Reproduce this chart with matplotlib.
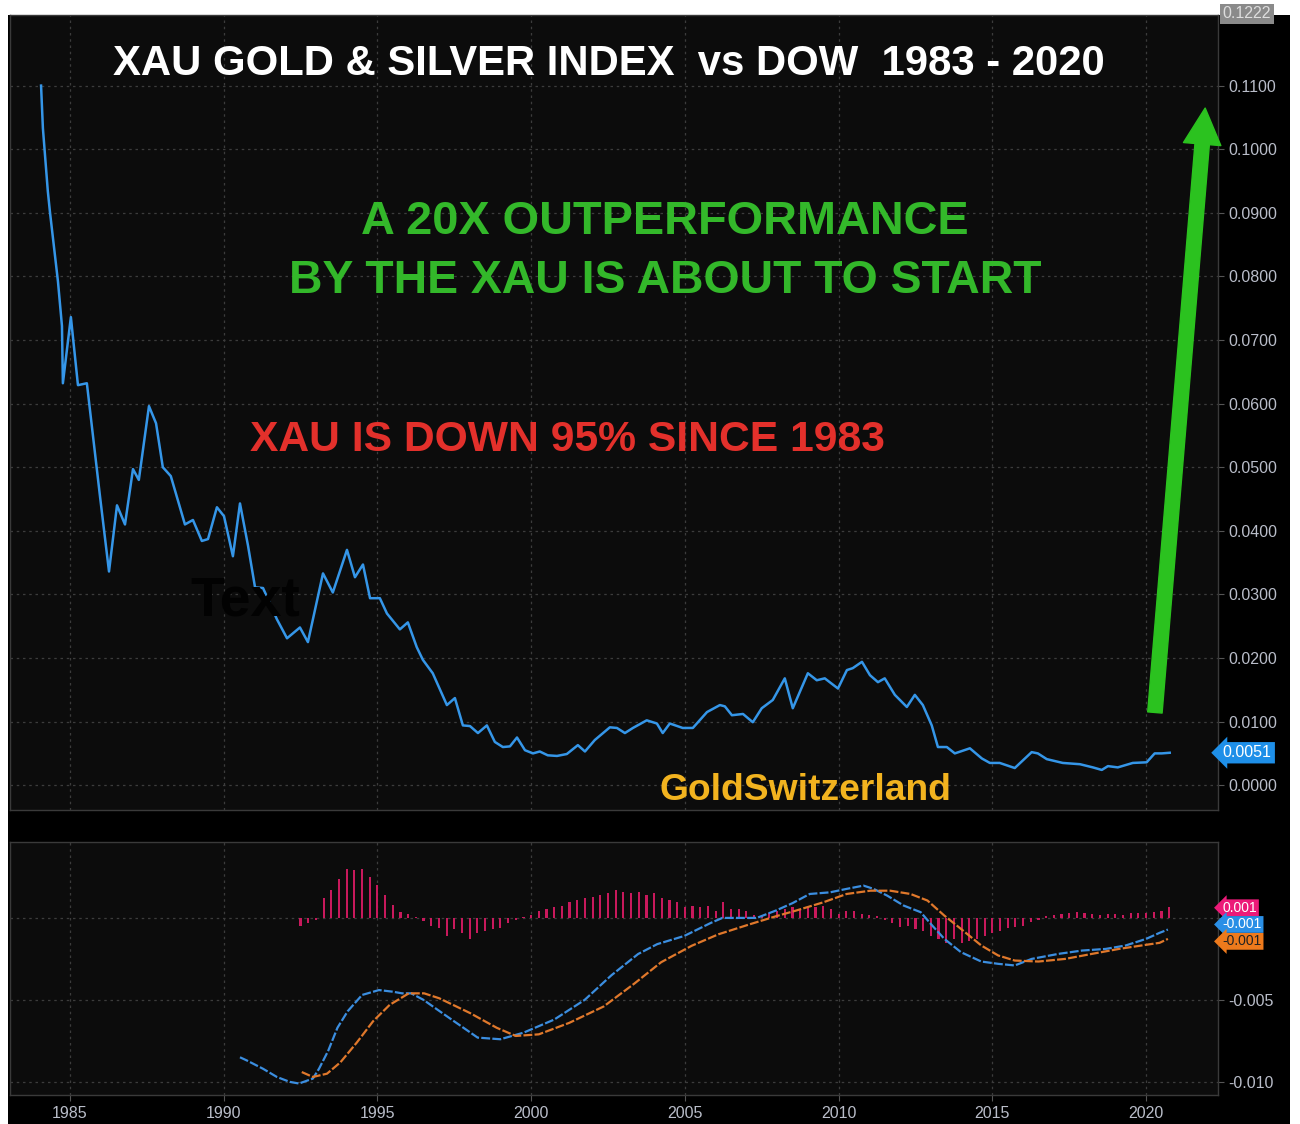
import numpy as np
import matplotlib
matplotlib.use("Agg")
import matplotlib.pyplot as plt
from matplotlib import font_manager
from matplotlib.patches import Rectangle, FancyArrowPatch
import matplotlib.transforms as mtransforms

# ---- data ----
xau_years = [1984.06, 1984.12, 1984.28, 1984.35, 1984.61, 1984.74, 1984.77, 1985.03, 1985.26, 1985.55,
             1985.98, 1986.27, 1986.53, 1986.79, 1987.05, 1987.24, 1987.57, 1987.80, 1988.02, 1988.28,
             1988.74, 1989.00, 1989.29, 1989.49, 1989.78, 1990.01, 1990.30, 1990.53, 1990.79, 1991.02,
             1991.28, 1991.73, 1992.06, 1992.48, 1992.74, 1993.23, 1993.55, 1994.01, 1994.27, 1994.53,
             1994.76, 1995.08, 1995.31, 1995.73, 1995.99, 1996.28, 1996.48, 1996.80, 1997.26, 1997.52,
             1997.78, 1998.01, 1998.27, 1998.56, 1998.82, 1999.08, 1999.31, 1999.54, 1999.80, 2000.06,
             2000.28, 2000.54, 2000.84, 2001.16, 2001.52, 2001.75, 2002.07, 2002.56, 2002.79, 2003.05,
             2003.31, 2003.76, 2004.09, 2004.28, 2004.51, 2004.93, 2005.26, 2005.72, 2006.14, 2006.30,
             2006.53, 2006.89, 2007.21, 2007.50, 2007.86, 2008.25, 2008.51, 2009.00, 2009.29, 2009.55,
             2009.98, 2010.27, 2010.46, 2010.76, 2011.02, 2011.28, 2011.50, 2011.83, 2012.22, 2012.48,
             2012.74, 2013.03, 2013.23, 2013.52, 2013.78, 2014.27, 2014.66, 2014.92, 2015.24, 2015.73,
             2016.28, 2016.48, 2016.77, 2017.29, 2017.85, 2018.27, 2018.56, 2018.76, 2019.08, 2019.57,
             2020.02, 2020.28, 2020.51, 2020.77]
xau_ratio = [0.1100, 0.1033, 0.0934, 0.0901, 0.0792, 0.0722, 0.0632, 0.0736, 0.0629, 0.0632,
             0.0453, 0.0336, 0.0440, 0.0410, 0.0497, 0.0480, 0.0596, 0.0569, 0.0500, 0.0486,
             0.0410, 0.0417, 0.0384, 0.0387, 0.0437, 0.0423, 0.0360, 0.0443, 0.0377, 0.0311,
             0.0310, 0.0261, 0.0231, 0.0248, 0.0225, 0.0333, 0.0303, 0.0370, 0.0327, 0.0347,
             0.0294, 0.0294, 0.0270, 0.0245, 0.0256, 0.0217, 0.0197, 0.0176, 0.0126, 0.0137,
             0.0094, 0.0093, 0.0082, 0.0094, 0.0068, 0.0060, 0.0061, 0.0075, 0.0055, 0.0050,
             0.0053, 0.0047, 0.0046, 0.0049, 0.0063, 0.0053, 0.0071, 0.0091, 0.0090, 0.0082,
             0.0090, 0.0102, 0.0097, 0.0082, 0.0097, 0.0090, 0.0090, 0.0115, 0.0126, 0.0124,
             0.0110, 0.0112, 0.0099, 0.0121, 0.0134, 0.0168, 0.0121, 0.0176, 0.0165, 0.0168,
             0.0152, 0.0181, 0.0184, 0.0194, 0.0173, 0.0162, 0.0168, 0.0142, 0.0123, 0.0142,
             0.0126, 0.0094, 0.0060, 0.0060, 0.0050, 0.0058, 0.0042, 0.0035, 0.0035, 0.0027,
             0.0052, 0.0050, 0.0041, 0.0035, 0.0033, 0.0028, 0.0024, 0.0030, 0.0028, 0.0035,
             0.0036, 0.0050, 0.0050, 0.0051]

macd_years = [1990.53, 1990.76, 1991.28, 1991.73, 1992.15, 1992.45, 1992.90, 1993.10, 1993.40, 1993.70,
              1994.03, 1994.50, 1995.05, 1995.50, 1995.80, 1996.10, 1996.50, 1997.26, 1998.26, 1999.00,
              1999.75, 2000.75, 2001.74, 2002.61, 2003.48, 2004.10, 2004.98, 2005.85, 2006.22, 2007.34,
              2007.96, 2008.50, 2009.06, 2009.72, 2010.26, 2010.81, 2011.14, 2011.58, 2012.12, 2012.67,
              2013.00, 2013.44, 2013.98, 2014.64, 2015.19, 2015.73, 2016.28, 2017.16, 2017.92, 2018.69,
              2019.34, 2020.00, 2020.44, 2020.71]
macd_line = [-0.0085, -0.0087, -0.0092, -0.0097, -0.0100, -0.0101, -0.0098, -0.0092, -0.0081, -0.0067,
             -0.0057, -0.0047, -0.0044, -0.0045, -0.0046, -0.0046, -0.0050, -0.0060, -0.0073, -0.0074,
             -0.0070, -0.0062, -0.0050, -0.0035, -0.0022, -0.0016, -0.0011, -0.0003, 0.0000, 0.0000,
             0.00045, 0.0009, 0.00146, 0.00156, 0.00177, 0.00197, 0.00177, 0.00136, 0.00075, 0.00035,
             -0.00037, -0.00128, -0.00209, -0.00266, -0.0028, -0.0029, -0.0025, -0.00219, -0.00199, -0.00189,
             -0.00168, -0.00128, -0.00091, -0.00071]

signal_years = [1992.54, 1992.90, 1993.36, 1993.80, 1994.33, 1994.86, 1995.40, 1996.02, 1996.52, 1997.01,
                1998.01, 1998.88, 1999.50, 2000.25, 2001.24, 2002.36, 2003.36, 2004.23, 2005.22, 2006.09,
                2007.09, 2007.96, 2008.62, 2009.50, 2010.26, 2011.03, 2011.68, 2012.34, 2012.89, 2013.44,
                2013.98, 2014.64, 2015.19, 2015.73, 2016.50, 2017.37, 2018.25, 2019.12, 2020.00, 2020.44,
                2020.71]
signal_line = [-0.0094, -0.0097, -0.0095, -0.0088, -0.0076, -0.0063, -0.0053, -0.0046, -0.0046, -0.0049,
               -0.0058, -0.0067, -0.0072, -0.0071, -0.0064, -0.0054, -0.0040, -0.0027, -0.0017, -0.0010,
               -0.0004, 0.0001, 0.00045, 0.00095, 0.00146, 0.00166, 0.00166, 0.00146, 0.00106, 0.00014,
               -0.00067, -0.00168, -0.00229, -0.0026, -0.00266, -0.0025, -0.00219, -0.00189, -0.00164, -0.00152,
               -0.00128]

# histogram, quarterly from 1992 Q3, in units of 0.001
hist_start = 1992.5
hist_vals = [-0.5, -0.3, -0.1, 1.2, 1.7, 2.4, 3.0, 2.9, 3.0, 2.5,
             2.0, 1.4, 0.8, 0.35, 0.25, 0.05, -0.2, -0.5, -0.6, -1.1,
             -0.7, -0.9, -1.3, -0.9, -0.8, -0.7, -0.6, -0.3, -0.1, 0.05,
             0.2, 0.45, 0.55, 0.65, 0.75, 1.0, 1.1, 1.2, 1.3, 1.4,
             1.5, 1.7, 1.6, 1.5, 1.6, 1.4, 1.5, 1.2, 1.1, 1.0,
             0.65, 0.75, 0.65, 0.75, 0.45, 1.0, 0.55, 0.55, 0.45, 0.15,
             0.2, 0.3, 0.45, 0.55, 0.65, 0.55, 0.65, 0.65, 0.75, 0.55,
             0.25, 0.45, 0.45, 0.25, 0.15, 0.1, -0.1, -0.3, -0.55, -0.5,
             -0.7, -0.8, -1.1, -1.3, -1.5, -1.3, -1.5, -1.4, -1.3, -1.1,
             -0.9, -0.8, -0.6, -0.55, -0.5, -0.25, -0.15, 0.1, 0.2, 0.25,
             0.3, 0.35, 0.3, 0.25, 0.2, 0.25, 0.25, 0.2, 0.3, 0.3,
             0.3, 0.35, 0.45, 0.65]

main_ticks = [0.0, 0.01, 0.02, 0.03, 0.04, 0.05, 0.06, 0.07, 0.08, 0.09, 0.10, 0.11]
lower_ticks = [-0.005, -0.010]
year_ticks = [1985, 1990, 1995, 2000, 2005, 2010, 2015, 2020]

# ---- fonts ----
names = {f.name for f in font_manager.fontManager.ttflist}
narrow = "Liberation Sans Narrow" if "Liberation Sans Narrow" in names else "Liberation Sans"
bold_font = "Liberation Sans"

W, H = 1300, 1124
fig = plt.figure(figsize=(W / 100, H / 100), dpi=100, facecolor="white")


def fx(px):
    return px / W


def fy(py):
    return 1 - py / H


# black panel behind everything (white margins left/top/right)
fig.patches.append(Rectangle((fx(8), 0), fx(1290 - 8), fy(15), transform=fig.transFigure,
                             facecolor="black", edgecolor="none", zorder=-10))

ax = fig.add_axes([fx(10), fy(810), fx(1218 - 10), fy(15) - fy(810)])
ax2 = fig.add_axes([fx(10), fy(1095), fx(1218 - 10), fy(842) - fy(1095)])

xlim = (1983.05, 2022.34)
grid_kw = dict(color="#3c3c3c", linestyle=(0, (2, 3)), linewidth=0.9)

for a in (ax, ax2):
    a.set_facecolor("#0c0c0c")
    a.set_xlim(*xlim)
    a.set_xticks(year_ticks)
    a.yaxis.tick_right()
    a.grid(True, **grid_kw)
    a.set_axisbelow(True)
    for s in a.spines.values():
        s.set_color("#3a3a3a")
        s.set_linewidth(1.0)
    a.tick_params(colors="#555555", labelcolor="#b9bdc9", length=4, width=0.8,
                  labelsize=11.5)

# ---- main panel ----
ax.set_ylim(-0.0039, 0.1211)
ax.set_yticks(main_ticks)
ax.set_yticklabels([f"{v:.4f}" for v in main_ticks], family=narrow)
ax.tick_params(axis="x", labelbottom=False, length=0)
ax.plot(xau_years, xau_ratio, color="#3596e8", linewidth=1.8, zorder=3)

# green arrow
arrow = FancyArrowPatch((2020.28, 0.0110), (2021.93, 0.1069),
                        arrowstyle="simple,head_length=1.3,head_width=1.35,tail_width=0.52",
                        mutation_scale=20, color="#2bc21f", zorder=4, clip_on=False)
ax.add_patch(arrow)

# value tags on the right
tr = mtransforms.blended_transform_factory(ax.transAxes, ax.transData)
ax.text(1.004, 0.0051, "0.0051", transform=tr, ha="left", va="center", fontsize=11.5,
        family=narrow, color="white", clip_on=False, zorder=6,
        bbox=dict(boxstyle="larrow,pad=0.2", facecolor="#1e8fe8", edgecolor="none"))
ax.text(1.004, 0.1213, "0.1222", transform=tr, ha="left", va="center", fontsize=11.5,
        family=narrow, color="#dddddd", clip_on=False, zorder=6,
        bbox=dict(boxstyle="square,pad=0.15", facecolor="#8a8a8a", edgecolor="none"))

# ---- lower panel ----
ax2.set_ylim(-0.0108, 0.00463)
ax2.set_yticks([0.0] + lower_ticks)
ax2.set_yticklabels([""] + [f"{v:.3f}" for v in lower_ticks], family=narrow)
ax2.set_xticklabels([str(y) for y in year_ticks], family=narrow)
ax2.tick_params(axis="x", pad=4)
hist_x = hist_start + 0.25 * np.arange(len(hist_vals))
ax2.bar(hist_x, np.array(hist_vals) / 1000, width=0.07, color="#c8195c", zorder=2)
ax2.plot(macd_years, macd_line, color="#3b8ee0", linewidth=1.6,
         linestyle=(0, (4, 1)), zorder=3)
ax2.plot(signal_years, signal_line, color="#e0782b", linewidth=1.6,
         linestyle=(0, (4, 1)), zorder=3)

tr2 = mtransforms.blended_transform_factory(ax2.transAxes, ax2.transData)
tag_kw = dict(transform=tr2, ha="left", va="center", fontsize=10, family=narrow,
              clip_on=False, zorder=6)
ax2.text(1.004, 0.00062, "0.001", color="white",
         bbox=dict(boxstyle="larrow,pad=0.1", facecolor="#ec1a78", edgecolor="none"), **tag_kw)
ax2.text(1.004, -0.0004, "-0.001", color="white",
         bbox=dict(boxstyle="larrow,pad=0.1", facecolor="#2a8fe6", edgecolor="none"), **tag_kw)
ax2.text(1.004, -0.00143, "-0.001", color="#222222",
         bbox=dict(boxstyle="larrow,pad=0.1", facecolor="#ee7a1c", edgecolor="none"), **tag_kw)

# ---- overlaid captions ----
captions = [
    ("XAU GOLD & SILVER INDEX  vs DOW  1983 - 2020", 609, 64, 992, "white"),
    ("A 20X OUTPERFORMANCE", 665, 222, 606, "#33b82a"),
    ("BY THE XAU IS ABOUT TO START", 665, 281, 752, "#33b82a"),
    ("XAU IS DOWN 95% SINCE 1983", 567, 440, 634, "#e3302b"),
    ("GoldSwitzerland", 805, 790, 292, "#f2b31f"),
    ("Text", 245, 602, 110, "#020202"),
]
texts = []
for s, cx, cy, wpx, col in captions:
    t = fig.text(fx(cx), fy(cy), s, ha="center", va="center", color=col,
                 fontsize=30, fontweight="bold", family=bold_font, zorder=7)
    texts.append((t, wpx))

fig.canvas.draw()
renderer = fig.canvas.get_renderer()
for t, wpx in texts:
    w = t.get_window_extent(renderer).width
    t.set_fontsize(30 * wpx / w)

fig.savefig("out.png", dpi=100, facecolor=fig.get_facecolor())
